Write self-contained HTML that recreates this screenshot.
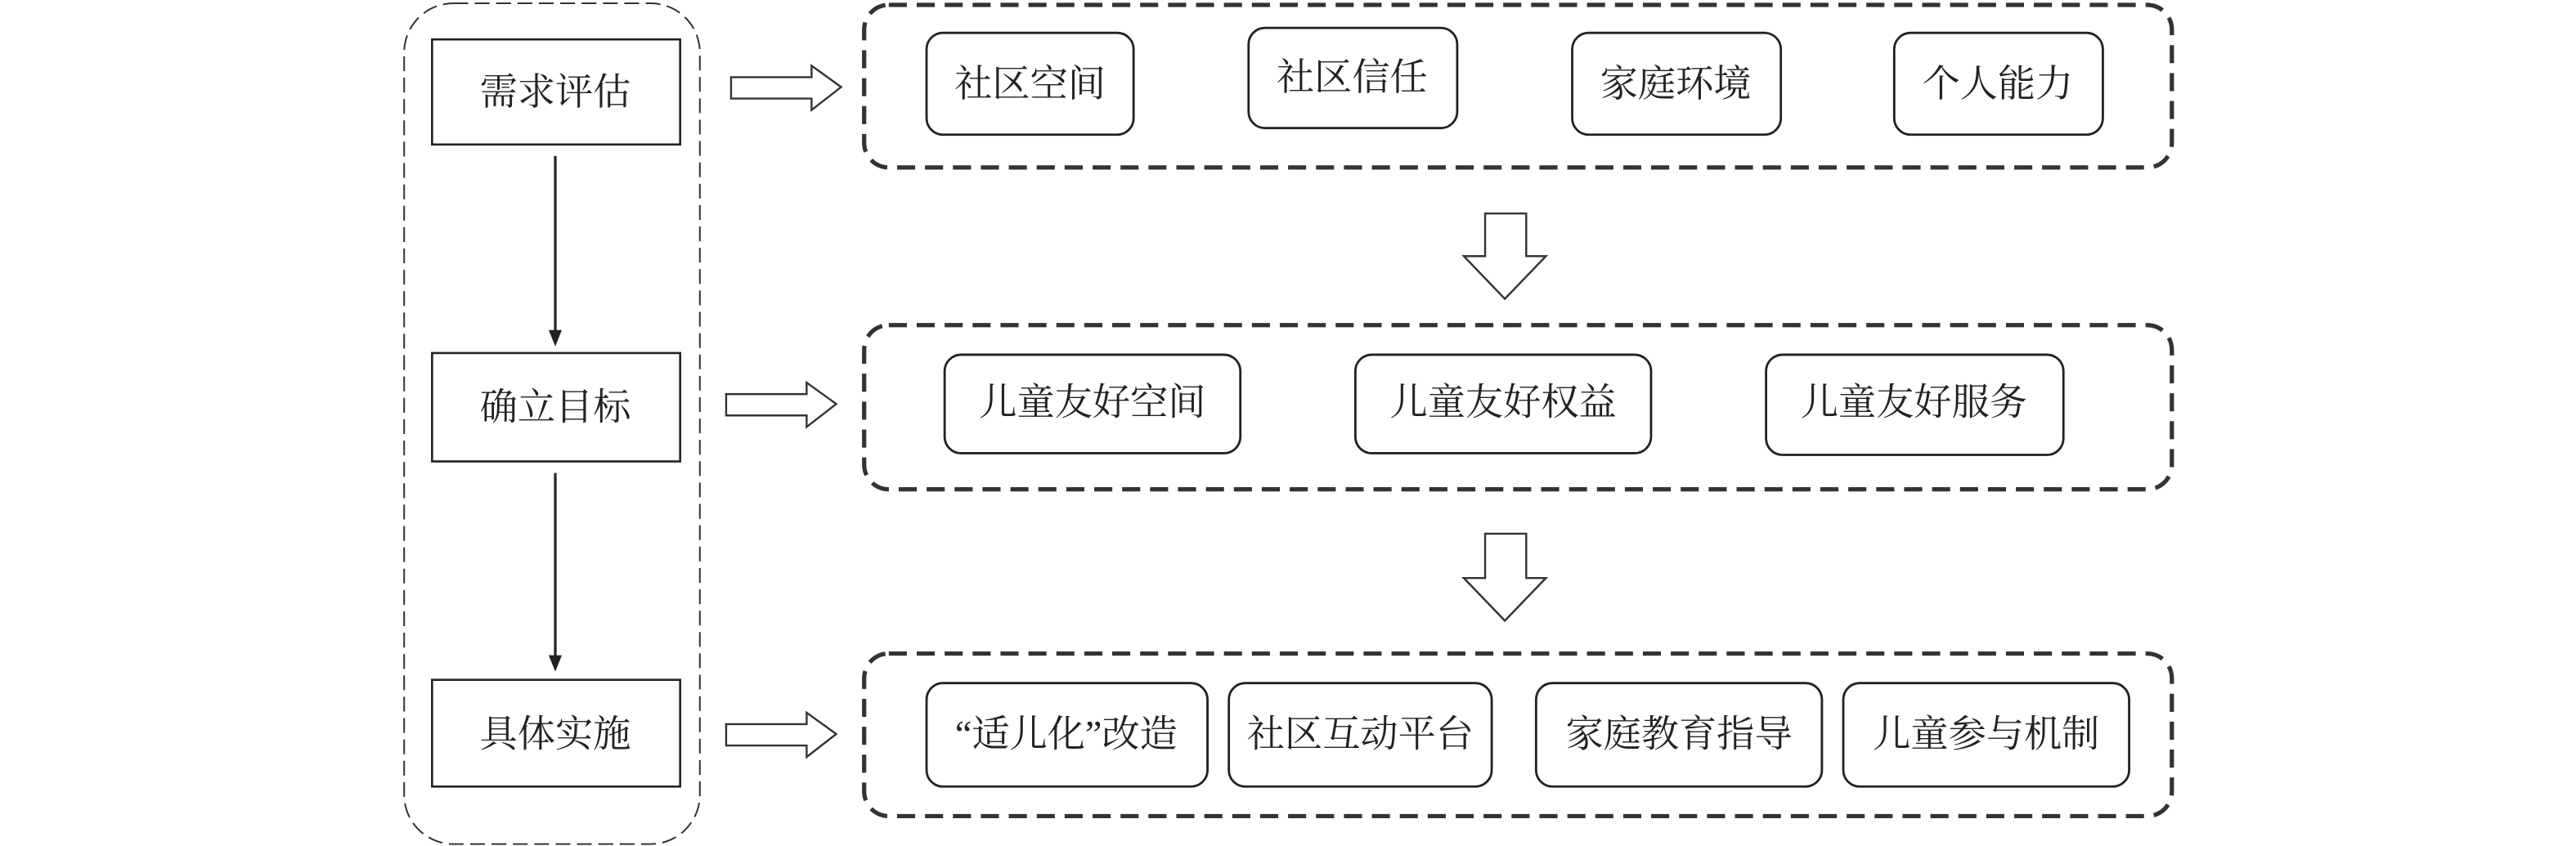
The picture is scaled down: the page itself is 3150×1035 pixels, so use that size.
<!DOCTYPE html>
<html><head><meta charset="utf-8"><style>
html,body{margin:0;padding:0;background:#fff}
svg{display:block}
text{font-family:"Liberation Serif","Noto Serif CJK SC","Noto Sans CJK SC",serif;font-size:23px;fill:#222;text-anchor:middle;dominant-baseline:central}
</style></head><body>
<svg width="3150" height="1035" viewBox="0 0 1568 515.2" xmlns="http://www.w3.org/2000/svg">
<rect width="1568" height="516" fill="#fff"/>
<!-- left dashed container -->
<rect x="246" y="2" width="180" height="512" rx="30" fill="none" stroke="#333" stroke-width="1" stroke-dasharray="9,4"/>
<g fill="#fff" stroke="#222" stroke-width="1.3">
<rect x="263" y="24" width="151" height="64"/>
<rect x="263" y="215" width="151" height="66"/>
<rect x="263" y="414" width="151" height="65"/>
</g>
<text x="338" y="56">需求评估</text>
<text x="338" y="248">确立目标</text>
<text x="338" y="447">具体实施</text>
<!-- vertical arrows -->
<g stroke="#222" stroke-width="1.6">
<line x1="338" y1="95" x2="338" y2="202"/>
<line x1="338" y1="288" x2="338" y2="400"/>
</g>
<polygon points="334,201 342,201 338,211" fill="#222"/>
<polygon points="334,399 342,399 338,409" fill="#222"/>
<!-- hollow right arrows -->
<g fill="#fff" stroke="#333" stroke-width="1.2">
<polygon points="445,47 494,47 494,40 512,53 494,67 494,60 445,60"/>
<polygon points="442,240 491,240 491,233 509,246 491,260 491,253 442,253"/>
<polygon points="442,441 491,441 491,434 509,447 491,461 491,454 442,454"/>
<!-- down arrows -->
<polygon points="904,130 929,130 929,156 941,156 916,182 891,156 904,156"/>
<polygon points="904,325 929,325 929,352 941,352 916,378 891,352 904,352"/>
</g>
<!-- right dashed containers -->
<g fill="none" stroke="#333" stroke-width="2.6" stroke-dasharray="11,6">
<rect x="526" y="3" width="796" height="99" rx="15"/>
<rect x="526" y="198" width="796" height="100" rx="15"/>
<rect x="526" y="398" width="796" height="99" rx="15"/>
</g>
<g fill="#fff" stroke="#222" stroke-width="1.4">
<rect x="564" y="20" width="126" height="62" rx="10"/>
<rect x="760" y="17" width="127" height="61" rx="10"/>
<rect x="957" y="20" width="127" height="62" rx="10"/>
<rect x="1153" y="20" width="127" height="62" rx="10"/>
<rect x="575" y="216" width="180" height="60" rx="10"/>
<rect x="825" y="216" width="180" height="60" rx="10"/>
<rect x="1075" y="216" width="181" height="61" rx="10"/>
<rect x="564" y="416" width="171" height="63" rx="10"/>
<rect x="748" y="416" width="160" height="63" rx="10"/>
<rect x="935" y="416" width="174" height="63" rx="10"/>
<rect x="1122" y="416" width="174" height="63" rx="10"/>
</g>
<text x="627" y="51">社区空间</text>
<text x="823" y="47">社区信任</text>
<text x="1020" y="51">家庭环境</text>
<text x="1216" y="51">个人能力</text>
<text x="665" y="245">儿童友好空间</text>
<text x="915" y="245">儿童友好权益</text>
<text x="1165" y="245">儿童友好服务</text>
<text x="649" y="447">“适儿化”改造</text>
<text x="828" y="447">社区互动平台</text>
<text x="1022" y="447">家庭教育指导</text>
<text x="1209" y="447">儿童参与机制</text>
</svg>
</body></html>
